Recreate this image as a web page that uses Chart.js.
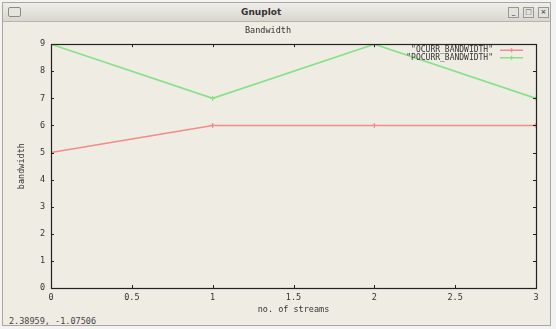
<!DOCTYPE html>
<html>
<head>
<meta charset="utf-8">
<script src="https://cdn.jsdelivr.net/npm/chart.js@4.4.0/dist/chart.umd.min.js"></script>
<style>
  html, body { margin: 0; padding: 0; width: 556px; height: 329px; overflow: hidden; background: #f3f3f3; }
  #win { position: absolute; left: 2px; top: 2px; width: 547px; height: 322px; border: 1px solid #a9a6a0; background: #efece4; }
  #bar { position: absolute; left: 0; top: 0; right: 0; height: 18px; background: linear-gradient(#f0eee9, #d9d6cf); border-bottom: 1px solid #b9b5ae;
         font: bold 9px "DejaVu Sans", sans-serif; color: #333; text-align: center; line-height: 18px; }
  #bar .ttl { position: absolute; left: 238px; top: 0; }
  #icon { position: absolute; left: 5px; top: 4px; width: 11px; height: 8px; border: 1px solid #8c8a86; border-radius: 2px; background: #e6e4df; }
  .btn { position: absolute; top: 4px; width: 9px; height: 9px; border: 1px solid #9a9790; background: #e4e2dc; font: bold 7px "DejaVu Sans", sans-serif; line-height: 9px; color: #555; }
  #status { position: absolute; left: 9px; top: 316px; font: 8.5px "DejaVu Sans Mono", monospace; color: #444; }
  canvas { position: absolute; left: 0; top: 0; }
</style>
</head>
<body>
<div id="win">
  <div id="bar"><div id="icon"></div><span class="ttl">Gnuplot</span>
    <div class="btn" style="left:505px">_</div>
    <div class="btn" style="left:520px">□</div>
    <div class="btn" style="left:535px">×</div>
  </div>
</div>
<div id="status">2.38959, -1.07506</div>
<canvas id="plot" width="556" height="329"></canvas>
<script>
// data
const streams = [0, 1, 2, 3];
const ocurrBandwidth = [5, 6, 6, 6];
const pocurrBandwidth = [9, 7, 9, 7];
const seriesNames = ['"OCURR_BANDWIDTH"', '"POCURR_BANDWIDTH"'];
const seriesColors = ["#f08c8a", "#86e286"];
const xTickLabels = ["0", "0.5", "1", "1.5", "2", "2.5", "3"];
const yTickLabels = ["0", "1", "2", "3", "4", "5", "6", "7", "8", "9"];

const mono = "'DejaVu Sans Mono', monospace";

function points(ys) {
  return streams.map((x, i) => ({ x: x, y: ys[i] }));
}

// gnuplot style frame with inward ticks on all sides + legend in the corner
const gnuFrame = {
  id: "gnuFrame",
  afterDatasetsDraw(chart) {
    const ctx = chart.ctx;
    const a = chart.chartArea;
    const xs = chart.scales.x, ys = chart.scales.y;
    ctx.save();
    ctx.strokeStyle = "#222";
    ctx.lineWidth = 1.2;
    ctx.strokeRect(Math.round(a.left) + 0.5, Math.round(a.top) + 0.5, Math.round(a.right - a.left), Math.round(a.bottom - a.top));
    ctx.lineWidth = 1;
    xs.ticks.forEach(t => {
      const px = Math.round(xs.getPixelForValue(t.value)) + 0.5;
      ctx.beginPath();
      ctx.moveTo(px, a.bottom); ctx.lineTo(px, a.bottom - 3);
      ctx.moveTo(px, a.top); ctx.lineTo(px, a.top + 3);
      ctx.stroke();
    });
    ys.ticks.forEach(t => {
      const py = Math.round(ys.getPixelForValue(t.value)) + 0.5;
      ctx.beginPath();
      ctx.moveTo(a.left, py); ctx.lineTo(a.left + 3, py);
      ctx.moveTo(a.right, py); ctx.lineTo(a.right - 3, py);
      ctx.stroke();
    });

    // legend
    ctx.font = "8px " + mono;
    ctx.textAlign = "right";
    ctx.textBaseline = "middle";
    chart.data.datasets.forEach((ds, i) => {
      const y = a.top + 6 + i * 7.5;
      ctx.fillStyle = "#333";
      ctx.fillText(ds.label, a.right - 43, y);
      ctx.strokeStyle = ds.borderColor;
      ctx.lineWidth = 1.5;
      ctx.beginPath();
      ctx.moveTo(a.right - 36, y); ctx.lineTo(a.right - 13, y);
      ctx.moveTo(a.right - 24.5, y - 2); ctx.lineTo(a.right - 24.5, y + 2);
      ctx.stroke();
    });
    ctx.restore();
  }
};

new Chart(document.getElementById("plot"), {
  type: "line",
  data: {
    datasets: [{
      label: seriesNames[0],
      data: points(ocurrBandwidth),
      borderColor: seriesColors[0],
      backgroundColor: seriesColors[0],
      borderWidth: 1.6,
      pointStyle: "cross",
      pointRadius: 2.5,
      pointBorderWidth: 1.2,
      tension: 0
    }, {
      label: seriesNames[1],
      data: points(pocurrBandwidth),
      borderColor: seriesColors[1],
      backgroundColor: seriesColors[1],
      borderWidth: 1.6,
      pointStyle: "cross",
      pointRadius: 2.5,
      pointBorderWidth: 1.2,
      tension: 0
    }]
  },
  options: {
    responsive: false,
    animation: false,
    devicePixelRatio: 1,
    layout: { padding: { left: 0, top: 26, right: 20, bottom: 0 } },
    plugins: {
      legend: { display: false },
      tooltip: { enabled: false },
      title: {
        display: true,
        text: "Bandwidth",
        color: "#333",
        font: { family: mono, size: 8.5, weight: "normal" },
        padding: { top: 0, bottom: 8 }
      }
    },
    scales: {
      x: {
        type: "linear",
        min: 0, max: 3,
        afterFit: s => { s.height = 41; },
        grid: { display: false, drawTicks: false },
        border: { display: false },
        ticks: {
          stepSize: 0.5,
          padding: 5,
          color: "#333",
          font: { family: mono, size: 8.5 },
          callback: (v) => xTickLabels[Math.round(v * 2)]
        },
        title: {
          display: true,
          text: "no. of streams",
          color: "#333",
          font: { family: mono, size: 8.5 },
          padding: { top: 14, bottom: 14 }
        }
      },
      y: {
        min: 0, max: 9,
        afterFit: s => { s.width = 51; },
        grid: { display: false, drawTicks: false },
        border: { display: false },
        ticks: {
          stepSize: 1,
          padding: 6,
          color: "#333",
          font: { family: mono, size: 8.5 },
          callback: (v) => yTickLabels[v]
        },
        title: {
          display: true,
          text: "bandwidth",
          color: "#333",
          font: { family: mono, size: 8.5 },
          padding: { top: 17, bottom: 17 }
        }
      }
    }
  },
  plugins: [gnuFrame]
});
</script>
</body>
</html>
